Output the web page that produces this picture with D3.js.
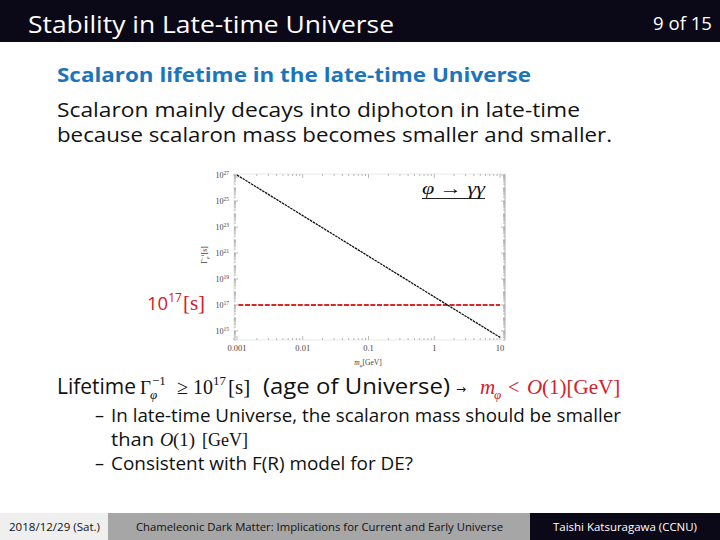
<!DOCTYPE html>
<html>
<head>
<meta charset="utf-8">
<script src="https://cdn.jsdelivr.net/npm/d3@7"></script>
<style>
  html, body { margin: 0; padding: 0; background: #fff; }
  svg { display: block; }
</style>
</head>
<body>
<div id="slide"></div>
<script>
// --- DATA ---
const masses = [0.001, 0.01, 0.1, 1, 10];               // m_phi [GeV]
const lifetimes = [1e27, 7.5e23, 5.6e20, 4.2e17, 3.2e14]; // Gamma^-1 [s]
const ageOfUniverse = 1e17;
const xTicks = [0.001, 0.01, 0.1, 1, 10];
const xTickLabels = ["0.001", "0.01", "0.1", "1", "10"];
const yTicks = [1e15, 1e17, 1e19, 1e21, 1e23, 1e25, 1e27];
const yTickExps = ["15", "17", "19", "21", "23", "25", "27"];

// --- SETUP ---
const W = 720, H = 540;
const sans = "'Open Sans', 'Noto Sans', sans-serif";
const serif = "'Liberation Serif', 'DejaVu Serif', serif";
const navy = "#0b0818";
const red = "#d0202a";

const svg = d3.select("#slide").append("svg")
  .attr("width", W).attr("height", H);

// header
svg.append("rect").attr("x", 0).attr("y", 0).attr("width", W).attr("height", 42).attr("fill", navy);
svg.append("text").attr("x", 28).attr("y", 33).attr("font-family", sans).attr("font-size", 23)
  .attr("fill", "#fff").attr("textLength", 366).attr("lengthAdjust", "spacingAndGlyphs")
  .text("Stability in Late-time Universe");
svg.append("text").attr("x", 653).attr("y", 30).attr("font-family", sans).attr("font-size", 19)
  .attr("fill", "#fff").attr("textLength", 59).attr("lengthAdjust", "spacingAndGlyphs")
  .text("9 of 15");

// subtitle + body
svg.append("text").attr("x", 57).attr("y", 82).attr("font-family", sans).attr("font-size", 20)
  .attr("font-weight", 700).attr("fill", "#1c75bc")
  .attr("textLength", 474).attr("lengthAdjust", "spacingAndGlyphs")
  .text("Scalaron lifetime in the late-time Universe");
const body = [
  {t: "Scalaron mainly decays into diphoton in late-time", y: 117, w: 523},
  {t: "because scalaron mass becomes smaller and smaller.", y: 142, w: 555}
];
body.forEach(b => svg.append("text").attr("x", 57).attr("y", b.y).attr("font-family", sans)
  .attr("font-size", 19.5).attr("fill", "#111").attr("textLength", b.w)
  .attr("lengthAdjust", "spacingAndGlyphs").text(b.t));

// --- CHART ---
const x = d3.scaleLog().domain([0.0009, 11.9]).range([234, 505]);
const y = d3.scaleLog().domain([2e14, 1.2e27]).range([340, 174]);
const chart = svg.append("g");

// frame
chart.append("rect").attr("x", x.range()[0]).attr("y", y.range()[1])
  .attr("width", x.range()[1] - x.range()[0]).attr("height", y.range()[0] - y.range()[1])
  .attr("fill", "none").attr("stroke", "#e4e4e4").attr("stroke-width", 0.8);
chart.append("line").attr("x1", x.range()[1]).attr("x2", x.range()[1])
  .attr("y1", y.range()[1]).attr("y2", y.range()[0]).attr("stroke", "#b8b8b8").attr("stroke-width", 1);

// minor + major ticks
const xMinor = [], yMinor = [];
for (let e = -4; e <= 1; e++) for (let k = 1; k <= 9; k++) {
  const v = k * Math.pow(10, e);
  if (v >= x.domain()[0] && v <= x.domain()[1]) xMinor.push({v, major: k === 1});
}
for (let e = 14; e <= 27; e++) for (let k = 1; k <= 9; k++) {
  const v = k * Math.pow(10, e);
  if (v >= y.domain()[0] && v <= y.domain()[1]) yMinor.push({v, major: k === 1 && e % 2 === 1});
}
const tickG = chart.append("g").attr("stroke", "#a8a8a8").attr("stroke-width", 0.8);
xMinor.forEach(d => {
  const len = d.major ? 4 : 2;
  tickG.append("line").attr("x1", x(d.v)).attr("x2", x(d.v)).attr("y1", y.range()[0]).attr("y2", y.range()[0] - len);
  tickG.append("line").attr("x1", x(d.v)).attr("x2", x(d.v)).attr("y1", y.range()[1]).attr("y2", y.range()[1] + len);
});
yMinor.forEach(d => {
  const len = d.major ? 4 : 2;
  tickG.append("line").attr("x1", x.range()[0]).attr("x2", x.range()[0] + len).attr("y1", y(d.v)).attr("y2", y(d.v));
  tickG.append("line").attr("x1", x.range()[1]).attr("x2", x.range()[1] - len).attr("y1", y(d.v)).attr("y2", y(d.v));
});

// tick labels
xTicks.forEach((v, i) => chart.append("text").attr("x", x(v)).attr("y", 351)
  .attr("text-anchor", "middle").attr("font-family", serif).attr("font-size", 8.5)
  .attr("fill", "#444").text(xTickLabels[i]));
yTicks.forEach((v, i) => {
  const t = chart.append("text").attr("x", 229).attr("y", y(v) + 3)
    .attr("text-anchor", "end").attr("font-family", serif).attr("font-size", 8)
    .attr("fill", "#444");
  t.append("tspan").text("10");
  t.append("tspan").attr("font-size", 5.5).attr("dy", -3).text(yTickExps[i]);
});

// axis titles
const yl = chart.append("text").attr("transform", "translate(207,255) rotate(-90)")
  .attr("text-anchor", "middle").attr("font-family", serif).attr("font-size", 7.5).attr("fill", "#444");
yl.append("tspan").text("Γ");
yl.append("tspan").attr("font-size", 5).attr("font-style", "italic").attr("dy", 2).text("φ");
yl.append("tspan").attr("font-size", 5).attr("dy", -5).attr("dx", -3).text("−1");
yl.append("tspan").attr("dy", 3).text("[s]");
const xl = chart.append("text").attr("x", 368).attr("y", 365)
  .attr("text-anchor", "middle").attr("font-family", serif).attr("font-size", 7.5).attr("fill", "#444");
xl.append("tspan").attr("font-style", "italic").text("m");
xl.append("tspan").attr("font-size", 5).attr("font-style", "italic").attr("dy", 2).text("φ");
xl.append("tspan").attr("dy", -2).text("[GeV]");

// age-of-universe line
chart.append("line").attr("x1", x(0.00105)).attr("x2", x(10)).attr("y1", y(ageOfUniverse)).attr("y2", y(ageOfUniverse))
  .attr("stroke", "#d42a2a").attr("stroke-width", 2).attr("stroke-dasharray", "5,1.6");

// lifetime curve
const pts = masses.map((m, i) => [m, lifetimes[i]]);
chart.append("path").datum(pts)
  .attr("d", d3.line().x(d => x(d[0])).y(d => y(d[1])))
  .attr("fill", "none").attr("stroke", "#111").attr("stroke-width", 1.3)
  .attr("stroke-dasharray", "2.5,0.8");

// annotation phi -> gamma gamma
chart.append("text").attr("x", 422).attr("y", 194).attr("font-family", serif).attr("font-size", 17)
  .attr("font-style", "italic").attr("fill", "#111").attr("textLength", 63)
  .attr("lengthAdjust", "spacingAndGlyphs").text("φ → γγ");
chart.append("line").attr("x1", 422).attr("x2", 485).attr("y1", 198.5).attr("y2", 198.5)
  .attr("stroke", "#222").attr("stroke-width", 1);

// red 10^17 [s] label
const rl = svg.append("text").attr("x", 147).attr("y", 310).attr("font-family", sans)
  .attr("font-size", 18.5).attr("fill", red);
rl.append("tspan").text("10");
rl.append("tspan").attr("font-size", 12).attr("dy", -8).text("17");
rl.append("tspan").attr("font-family", serif).attr("font-size", 21).attr("dy", 8).attr("dx", 1).text("[s]");

// --- LIFETIME LINE ---
const ly = 394;
svg.append("text").attr("x", 57).attr("y", ly).attr("font-family", sans).attr("font-size", 21)
  .attr("fill", "#111").attr("textLength", 79).attr("lengthAdjust", "spacingAndGlyphs").text("Lifetime");
svg.append("text").attr("x", 263).attr("y", ly).attr("font-family", sans).attr("font-size", 21)
  .attr("fill", "#111").attr("textLength", 187).attr("lengthAdjust", "spacingAndGlyphs").text("(age of Universe)");
svg.append("text").attr("x", 456).attr("y", ly - 1).attr("font-family", "'DejaVu Sans', sans-serif")
  .attr("font-size", 12).attr("fill", "#111").text("→");

const lt = svg.append("text").attr("y", ly).attr("font-size", 21).attr("fill", "#111");
function piece(px, txt, opts = {}) {
  const t = lt.append("tspan").attr("x", px).attr("y", ly + (opts.dy || 0))
    .attr("font-family", serif).attr("font-size", opts.size || 21)
    .attr("fill", opts.color || "#111");
  if (opts.italic) t.attr("font-style", "italic");
  t.text(txt);
  return t;
}
piece(140, "Γ", {size: 19});
piece(150, "φ", {italic: true, size: 13, dy: 5});
piece(152, "−1", {size: 13, dy: -9});
piece(177, "≥", {size: 20});
piece(193, "10", {size: 20});
piece(213, "17", {size: 13, dy: -9});
piece(228, "[s]", {size: 21});
piece(480, "m", {italic: true, size: 21, color: red});
piece(494, "φ", {italic: true, size: 13, dy: 5, color: red});
piece(508, "<", {size: 20, color: red});
piece(527, "O", {italic: true, size: 21, color: red});
piece(542, "(1)[GeV]", {size: 21, color: red});

// bullets
const bullets = [
  {dash: true, parts: [{t: "In late-time Universe, the scalaron mass should be smaller", x: 111, w: 510}], y: 422},
  {dash: false, parts: [{t: "than", x: 111, w: 43}, {t: "O", x: 160, serif: true, italic: true}, {t: "(1)", x: 173, serif: true, w: 22}, {t: "[GeV]", x: 202, serif: true, w: 46}], y: 446},
  {dash: true, parts: [{t: "Consistent with F(R) model for DE?", x: 111, w: 302}], y: 470}
];
bullets.forEach(b => {
  if (b.dash) svg.append("text").attr("x", 95).attr("y", b.y).attr("font-family", sans)
    .attr("font-size", 18).attr("fill", "#111").text("–");
  b.parts.forEach(p => {
    const t = svg.append("text").attr("x", p.x).attr("y", b.y)
      .attr("font-family", p.serif ? serif : sans).attr("font-size", 18.5).attr("fill", "#111");
    if (p.italic) t.attr("font-style", "italic");
    if (p.w) t.attr("textLength", p.w).attr("lengthAdjust", "spacingAndGlyphs");
    t.text(p.t);
  });
});

// --- FOOTER ---
const footer = [
  {x0: 0, x1: 108, fill: "#efefef", color: "#111", t: "2018/12/29 (Sat.)", tx: 9, w: 91},
  {x0: 108, x1: 530, fill: "#a6a6a6", color: "#111", t: "Chameleonic Dark Matter: Implications for Current and Early Universe", tx: 136, w: 367},
  {x0: 530, x1: 720, fill: navy, color: "#fff", t: "Taishi Katsuragawa (CCNU)", tx: 553, w: 144}
];
footer.forEach(f => {
  svg.append("rect").attr("x", f.x0).attr("y", 513).attr("width", f.x1 - f.x0).attr("height", 27).attr("fill", f.fill);
  svg.append("text").attr("x", f.tx).attr("y", 531).attr("font-family", sans).attr("font-size", 11.5)
    .attr("fill", f.color).attr("textLength", f.w).attr("lengthAdjust", "spacingAndGlyphs").text(f.t);
});
</script>
</body>
</html>
